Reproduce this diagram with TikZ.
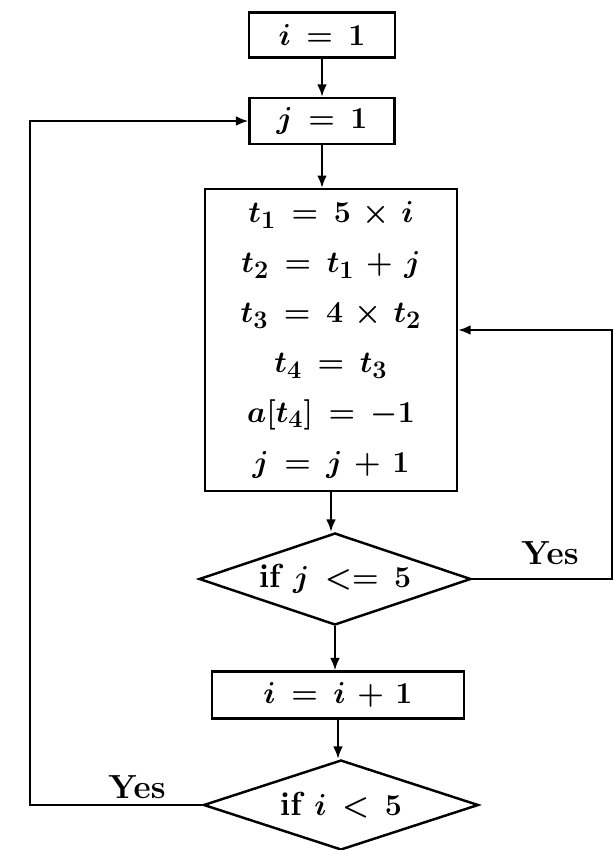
\documentclass[tikz,border=0pt]{standalone}
\usetikzlibrary{shapes.geometric,arrows.meta}
\thickmuskip=8mu plus 5mu
\medmuskip=6mu plus 2mu minus 4mu
\begin{document}
\begin{tikzpicture}[x=0.02cm,y=-0.02cm,
  every node/.style={font=\fontsize{19}{28.4}\selectfont\bfseries\boldmath},
  box/.style={draw,line width=1.4pt,inner sep=0pt,align=center},
  decision/.style={draw,diamond,line width=1.4pt,inner sep=0pt,aspect=2.9},
  arr/.style={-{Latex[length=7pt,width=5.5pt]},line width=1.2pt}]
\useasboundingbox (0,0) rectangle (613,850);
\def\xL{30};
\def\xR{612};
\coordinate (lft) at (\xL,121);
\coordinate (rgt) at (\xR,330);
\node[box,minimum width=2.92cm,minimum height=0.9cm] (ione) at (322,35) {$i=1$};
\node[box,minimum width=2.9cm,minimum height=0.92cm] (jone) at (322,121) {$j=1$};
\node[box,minimum width=5.04cm,minimum height=6.04cm] (calc) at (331,340)
  {$t_1=5\times i$\\ $t_2=t_1+j$\\ $t_3=4\times t_2$\\ $t_4=t_3$\\ $a[t_4]=-1$\\ $j=j+1$};
\node[decision,minimum width=5.44cm,minimum height=1.84cm] (dj) at (335,579) {if $j<=5$};
\node[box,minimum width=5.04cm,minimum height=0.94cm] (inc) at (338,695) {$i=i+1$};
\node[decision,minimum width=5.5cm,minimum height=1.8cm] (di) at (341,805) {if $i<5$};
\node (yesj) at (550,553) {Yes};
\node (yesi) at (137,787) {Yes};
\draw[arr] (ione) -- (jone);
\draw[arr] (jone.south) -- (jone.south |- calc.north);
\draw[arr] (calc.south) -- (calc.south |- dj.north);
\draw[arr] (dj.south) -- (dj.south |- inc.north);
\draw[arr] (inc.south) -- (inc.south |- di.north);
\draw[arr] (dj.east) -| (rgt) -- (calc.east |- rgt);
\draw[arr] (di.west) -| (lft) -- (jone.west);
\end{tikzpicture}
\end{document}
